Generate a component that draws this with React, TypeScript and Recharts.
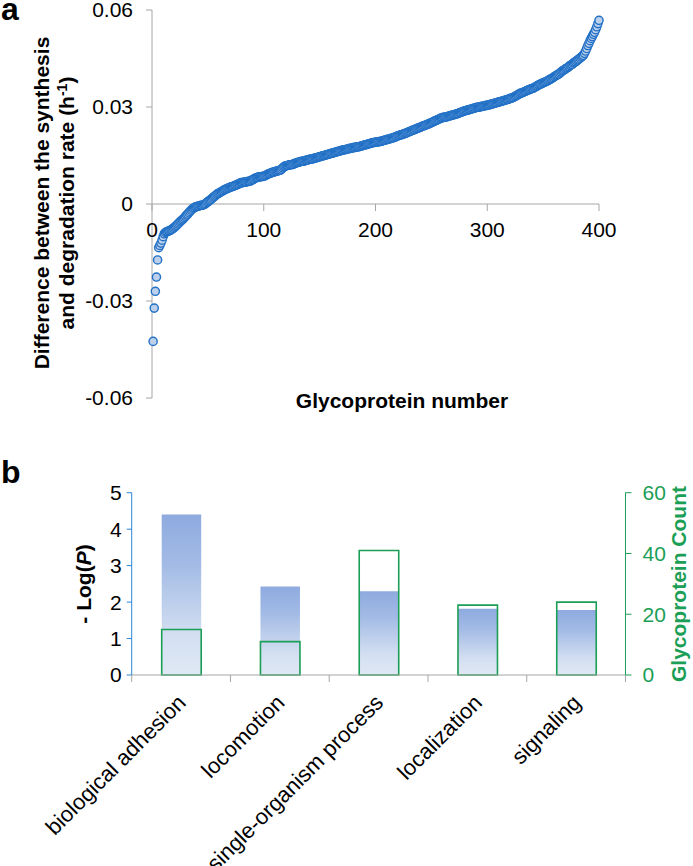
import React from 'react';
import { ScatterChart, Scatter, XAxis, YAxis, ReferenceLine, BarChart, Bar } from 'recharts';

const FONT = '"Liberation Sans", Arial, Helvetica, sans-serif';

// panel a: difference between synthesis and degradation rate (h-1), sorted, one per glycoprotein
const rateDiff = [
  -0.0425, -0.0322, -0.027, -0.0226, -0.0173, -0.0135, -0.0128, -0.0121, -0.0112, -0.0101,
  -0.0092, -0.0088, -0.0086, -0.0085, -0.0083, -0.0082, -0.008, -0.0078, -0.0075, -0.0072,
  -0.0069, -0.0066, -0.0062, -0.0059, -0.0055, -0.0052, -0.0049, -0.0046, -0.0042, -0.0038,
  -0.0034, -0.0031, -0.0027, -0.0023, -0.0019, -0.0016, -0.0013, -0.0011, -0.0009, -0.0008,
  -0.0007, -0.0006, -0.0005, -0.0004, -0.0004, -0.0003, -0.0001, 0.0001, 0.0004, 0.0007,
  0.001, 0.0012, 0.0015, 0.0018, 0.0021, 0.0024, 0.0027, 0.003, 0.0032, 0.0034,
  0.0036, 0.0038, 0.004, 0.0042, 0.0044, 0.0046, 0.0047, 0.0049, 0.005, 0.0052,
  0.0053, 0.0054, 0.0055, 0.0057, 0.0058, 0.006, 0.0061, 0.0063, 0.0065, 0.0066,
  0.0066, 0.0067, 0.0068, 0.0068, 0.0069, 0.007, 0.007, 0.0071, 0.0073, 0.0075,
  0.0077, 0.0079, 0.0081, 0.0082, 0.0083, 0.0084, 0.0084, 0.0085, 0.0085, 0.0086,
  0.0087, 0.0089, 0.0091, 0.0093, 0.0094, 0.0095, 0.0097, 0.0098, 0.0099, 0.01,
  0.0101, 0.0102, 0.0103, 0.0104, 0.0105, 0.0108, 0.0112, 0.0115, 0.0117, 0.0118,
  0.0119, 0.012, 0.0121, 0.0121, 0.0122, 0.0122, 0.0124, 0.0126, 0.0127, 0.0128,
  0.0129, 0.013, 0.0131, 0.0132, 0.0132, 0.0133, 0.0134, 0.0135, 0.0136, 0.0137,
  0.0138, 0.0139, 0.0139, 0.014, 0.0141, 0.0142, 0.0143, 0.0144, 0.0145, 0.0146,
  0.0147, 0.0148, 0.0149, 0.015, 0.0151, 0.0152, 0.0153, 0.0154, 0.0155, 0.0156,
  0.0157, 0.0158, 0.0159, 0.016, 0.0161, 0.0162, 0.0163, 0.0164, 0.0165, 0.0166,
  0.0167, 0.0168, 0.0168, 0.0169, 0.017, 0.0171, 0.0172, 0.0172, 0.0173, 0.0174,
  0.0175, 0.0175, 0.0176, 0.0177, 0.0177, 0.0178, 0.0179, 0.018, 0.0181, 0.0182,
  0.0183, 0.0184, 0.0185, 0.0186, 0.0187, 0.0188, 0.0189, 0.019, 0.019, 0.0191,
  0.0192, 0.0192, 0.0193, 0.0193, 0.0194, 0.0195, 0.0196, 0.0197, 0.0198, 0.0199,
  0.02, 0.0201, 0.0202, 0.0203, 0.0204, 0.0205, 0.0206, 0.0208, 0.0209, 0.0211,
  0.0212, 0.0213, 0.0214, 0.0215, 0.0216, 0.0218, 0.0219, 0.022, 0.0222, 0.0223,
  0.0225, 0.0226, 0.0228, 0.0229, 0.023, 0.0232, 0.0233, 0.0235, 0.0236, 0.0237,
  0.0239, 0.024, 0.0242, 0.0243, 0.0244, 0.0246, 0.0247, 0.0248, 0.025, 0.0252,
  0.0253, 0.0255, 0.0257, 0.0258, 0.026, 0.0261, 0.0263, 0.0265, 0.0266, 0.0267,
  0.0268, 0.0269, 0.0269, 0.027, 0.0271, 0.0272, 0.0273, 0.0274, 0.0275, 0.0276,
  0.0277, 0.0278, 0.0279, 0.028, 0.0282, 0.0283, 0.0284, 0.0286, 0.0287, 0.0288,
  0.0289, 0.029, 0.0291, 0.0292, 0.0293, 0.0294, 0.0295, 0.0296, 0.0297, 0.0298,
  0.0299, 0.0299, 0.03, 0.0301, 0.0302, 0.0302, 0.0303, 0.0304, 0.0305, 0.0305,
  0.0306, 0.0307, 0.0308, 0.0309, 0.031, 0.0311, 0.0312, 0.0313, 0.0314, 0.0315,
  0.0316, 0.0317, 0.0318, 0.0319, 0.032, 0.0321, 0.0322, 0.0323, 0.0324, 0.0326,
  0.0327, 0.0328, 0.0329, 0.0331, 0.0333, 0.0335, 0.0337, 0.0339, 0.0341, 0.0343,
  0.0344, 0.0345, 0.0347, 0.0348, 0.035, 0.0352, 0.0353, 0.0354, 0.0356, 0.0357,
  0.0358, 0.036, 0.0362, 0.0364, 0.0366, 0.0368, 0.037, 0.0371, 0.0373, 0.0375,
  0.0376, 0.0378, 0.0379, 0.0381, 0.0383, 0.0385, 0.0387, 0.0389, 0.0391, 0.0394,
  0.0396, 0.0398, 0.04, 0.0402, 0.0405, 0.0408, 0.0411, 0.0413, 0.0415, 0.0418,
  0.042, 0.0422, 0.0425, 0.0428, 0.043, 0.0432, 0.0436, 0.0438, 0.044, 0.0443,
  0.0446, 0.0448, 0.0451, 0.0454, 0.0457, 0.046, 0.0466, 0.0473, 0.0481, 0.049,
  0.0497, 0.0505, 0.0512, 0.0518, 0.0525, 0.0531, 0.0539, 0.0548, 0.0558, 0.0568,
];
const xTicksA = [0, 100, 200, 300, 400];
const yTicksA = [-0.06, -0.03, 0, 0.03, 0.06];

// panel b: enriched GO processes
const processes = ['biological adhesion', 'locomotion', 'single-organism process', 'localization', 'signaling'];
const minusLogP = [4.4, 2.43, 2.3, 1.82, 1.78];
const glycoCount = [15, 11, 41, 23, 24];
const yTicksLeft = [0, 1, 2, 3, 4, 5];
const yTicksRight = [0, 20, 40, 60];

const scatterData = rateDiff.map((v, i) => ({ n: i + 1, diff: v }));
const barData = processes.map((p, i) => ({ name: p, logP: minusLogP[i], count: glycoCount[i] }));

const GRAY = '#a6a6a6';
const BLUE_AXIS = '#2b86d9';
const GREEN = '#1b9e55';

// layout, panel a
const A_W = 693;
const A_H = 430;
const A_MARGIN = { top: 10, right: 94, bottom: 2, left: 0 };
const A_XAXIS_H = 30;
const A_PLOT_H = A_H - A_MARGIN.top - A_MARGIN.bottom - A_XAXIS_H;

// layout, panel b
const B_TOP = 440;
const B_W = 693;
const B_H = 426;
const B_LEFT_AXIS_W = 131.7;
const B_RIGHT_AXIS_W = 67.5;
const B_XAXIS_H = 191;
const B_PLOT_W = B_W - B_LEFT_AXIS_W - B_RIGHT_AXIS_W;
const BAR_W = 39.5;

const fmtA = (v: number) => (v === 0 ? '0' : v.toFixed(2));

// x axis of panel a crosses at y = 0, so the ticks are drawn up from the plot bottom
const zeroShift = (A_PLOT_H * (0 - yTicksA[0])) / (yTicksA[yTicksA.length - 1] - yTicksA[0]);

const XTickA = (props: any) => {
  const { x, y, payload } = props;
  const y0 = y - zeroShift;
  return (
    <g>
      <line x1={x} x2={x} y1={y0} y2={y0 + 7} stroke={GRAY} strokeWidth={1} />
      <text x={x} y={y0 + 33} textAnchor="middle" fontSize={21} fill="#000" fontFamily={FONT}>
        {payload.value}
      </text>
    </g>
  );
};

const Dot = (props: any) => (
  <circle cx={props.cx} cy={props.cy} r={4.1} fill="#bcd0eb" stroke="#2170c6" strokeWidth={1.4} />
);

const CatTick = (props: any) => {
  const { x, y, payload } = props;
  const band = B_PLOT_W / processes.length;
  const tx = x + 6;
  const ty = y + 29;
  const last = payload.value === processes[processes.length - 1];
  return (
    <g>
      <line x1={x - band / 2} x2={x - band / 2} y1={y} y2={y + 7} stroke={GRAY} />
      {last && <line x1={x + band / 2} x2={x + band / 2} y1={y} y2={y + 7} stroke={GRAY} />}
      <text
        x={tx}
        y={ty}
        transform={`rotate(-45 ${tx} ${ty})`}
        textAnchor="end"
        fontSize={22}
        fill="#000"
        fontFamily={FONT}
      >
        {payload.value}
      </text>
    </g>
  );
};

export default function App() {
  return (
    <div style={{ position: 'absolute', left: 0, top: 0, width: 693, height: 866, background: '#fff', fontFamily: FONT }}>
      <div style={{ position: 'absolute', left: 0, top: 0 }}>
        <ScatterChart width={A_W} height={A_H} margin={A_MARGIN}>
          <XAxis
            type="number"
            dataKey="n"
            domain={[0, 400]}
            ticks={xTicksA}
            interval={0}
            height={A_XAXIS_H}
            axisLine={false}
            tickLine={false}
            tickSize={0}
            tickMargin={0}
            tick={<XTickA />}
            label={{
              content: () => (
                <text x={402} y={408} textAnchor="middle" fontSize={21} fontWeight="bold" fill="#000" fontFamily={FONT}>
                  Glycoprotein number
                </text>
              ),
            }}
          />
          <YAxis
            type="number"
            dataKey="diff"
            domain={[-0.06, 0.06]}
            ticks={yTicksA}
            interval={0}
            width={152}
            stroke={GRAY}
            tickSize={6}
            tickMargin={13}
            tickFormatter={fmtA}
            tick={{ fontSize: 21, fill: '#000', fontFamily: FONT }}
            label={{
              content: () => (
                <text transform="rotate(-90)" textAnchor="middle" fontSize={21} fontWeight="bold" fill="#000" fontFamily={FONT}>
                  <tspan x={-203} y={48.5}>Difference between the synthesis</tspan>
                  <tspan x={-203} y={73.5}>
                    and degradation rate (h
                    <tspan dy={-7} fontSize={14}>-1</tspan>
                    <tspan dy={7}>)</tspan>
                  </tspan>
                </text>
              ),
            }}
          />
          <ReferenceLine y={0} stroke={GRAY} strokeWidth={1} />
          <Scatter data={scatterData} shape={<Dot />} isAnimationActive={false} />
        </ScatterChart>
      </div>

      <div style={{ position: 'absolute', left: 0, top: B_TOP }}>
        <BarChart
          width={B_W}
          height={B_H}
          data={barData}
          margin={{ top: 52.7, right: 0, bottom: 0, left: 0 }}
          barSize={BAR_W}
          barGap={-BAR_W}
        >
          <defs>
            <linearGradient id="logPFill" x1="0" y1="0" x2="0" y2="1">
              <stop offset="0%" stopColor="#8eaadf" />
              <stop offset="30%" stopColor="#a2bae5" />
              <stop offset="75%" stopColor="#d3dff1" />
              <stop offset="100%" stopColor="#dfe8f4" />
            </linearGradient>
          </defs>
          <XAxis
            dataKey="name"
            interval={0}
            height={B_XAXIS_H}
            stroke={GRAY}
            tickLine={false}
            tickSize={0}
            tickMargin={0}
            tick={<CatTick />}
          />
          <YAxis
            yAxisId="left"
            orientation="left"
            domain={[0, 5]}
            ticks={yTicksLeft}
            interval={0}
            width={B_LEFT_AXIS_W}
            stroke={BLUE_AXIS}
            tickSize={5}
            tickMargin={5}
            tick={{ fontSize: 21, fill: '#000', fontFamily: FONT }}
            label={{
              content: () => (
                <text transform="rotate(-90)" textAnchor="middle" fontSize={21} fontWeight="bold" fill="#000" fontFamily={FONT}>
                  <tspan x={-144} y={90.5}>
                    - Log(<tspan fontStyle="italic">P</tspan>)
                  </tspan>
                </text>
              ),
            }}
          />
          <YAxis
            yAxisId="right"
            orientation="right"
            domain={[0, 60]}
            ticks={yTicksRight}
            interval={0}
            width={B_RIGHT_AXIS_W}
            stroke={GREEN}
            tickSize={6}
            tickMargin={11}
            tick={{ fontSize: 21, fill: GREEN, fontFamily: FONT }}
            label={{
              content: () => (
                <text
                  transform="rotate(-90)"
                  x={-144}
                  y={685.5}
                  textAnchor="middle"
                  fontSize={21}
                  fontWeight="bold"
                  fill={GREEN}
                  fontFamily={FONT}
                >
                  Glycoprotein Count
                </text>
              ),
            }}
          />
          <Bar yAxisId="left" dataKey="logP" fill="url(#logPFill)" isAnimationActive={false} />
          <Bar yAxisId="right" dataKey="count" fill="none" stroke={GREEN} strokeWidth={1.6} isAnimationActive={false} />
        </BarChart>
      </div>

      <svg width={693} height={866} style={{ position: 'absolute', left: 0, top: 0, pointerEvents: 'none' }}>
        <text x={1} y={20} fontSize={32} fontWeight="bold" fill="#000" fontFamily={FONT}>a</text>
        <text x={1} y={483} fontSize={32} fontWeight="bold" fill="#000" fontFamily={FONT}>b</text>
      </svg>
    </div>
  );
}
